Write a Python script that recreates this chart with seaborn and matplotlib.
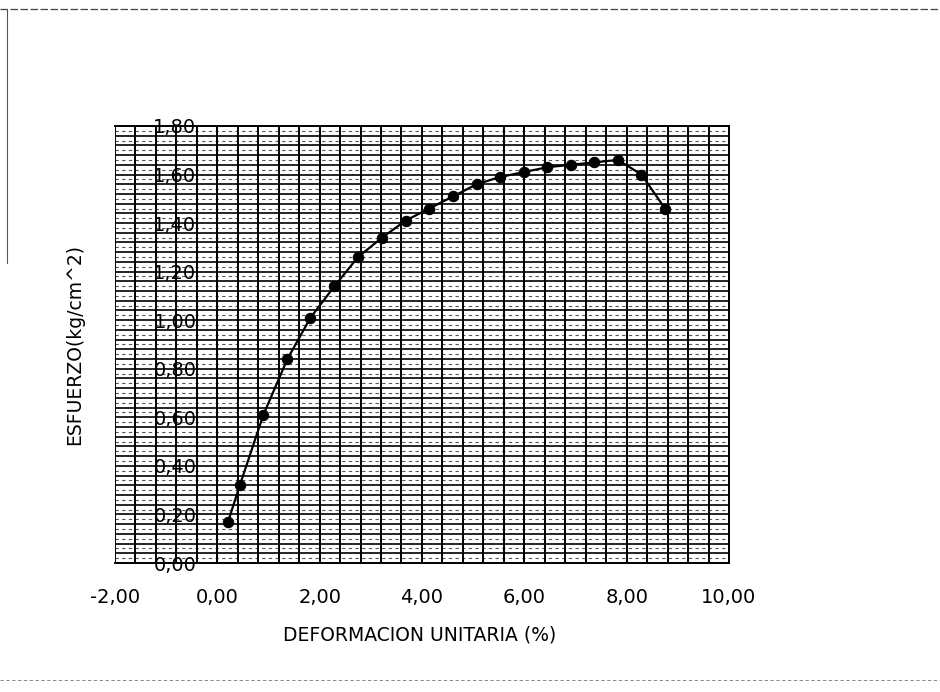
import numpy as np
import pandas as pd
import matplotlib
matplotlib.use('Agg')
import matplotlib.pyplot as plt
from matplotlib.ticker import FuncFormatter, MultipleLocator
from matplotlib.lines import Line2D
import seaborn as sns

# Datos
deformacion = [0.21, 0.44, 0.90, 1.37, 1.82, 2.29, 2.75, 3.22, 3.68, 4.14,
               4.61, 5.07, 5.53, 5.99, 6.45, 6.91, 7.37, 7.83, 8.29, 8.75]
esfuerzo = [0.17, 0.32, 0.61, 0.84, 1.01, 1.14, 1.26, 1.34, 1.41, 1.46,
            1.51, 1.56, 1.59, 1.61, 1.63, 1.64, 1.65, 1.66, 1.60, 1.46]

df = pd.DataFrame({'Deformacion': deformacion, 'Esfuerzo': esfuerzo})

sns.set_style('white')
plt.rcParams['font.family'] = ['DejaVu Sans']

fig = plt.figure(figsize=(9.4, 6.92), dpi=100)
ax = fig.add_axes([0.1223, 0.1864, 0.6532, 0.6316])

sns.lineplot(x='Deformacion', y='Esfuerzo', data=df, sort=False, ax=ax,
             color='black', linewidth=1.6, marker='o', markersize=7.5,
             markeredgecolor='black', markerfacecolor='black', zorder=5)

ax.set_xlim(-2, 10)
ax.set_ylim(0, 1.8)
ax.xaxis.set_major_locator(MultipleLocator(2))
ax.xaxis.set_minor_locator(MultipleLocator(0.4))
ax.yaxis.set_major_locator(MultipleLocator(0.2))
ax.yaxis.set_minor_locator(MultipleLocator(0.04))

fmt = FuncFormatter(lambda v, p: f'{v:.2f}'.replace('.', ','))
ax.xaxis.set_major_formatter(fmt)
ax.yaxis.set_major_formatter(fmt)

# rejilla densa (como en el escaneo)
ax.grid(True, which='both', axis='x', color='black', linewidth=1.4)
ax.grid(True, which='both', axis='y', color='black', linewidth=1.2)
ax.hlines(np.arange(0.02, 1.8, 0.04), -2, 10, colors='#555555',
          linewidth=0.8, linestyles=(0, (3, 3)), zorder=0.5)
ax.set_axisbelow(True)

# eje Y cruzando en x = 0
ax.spines['left'].set_position(('data', 0))
for s in ax.spines.values():
    s.set_color('black')
    s.set_linewidth(1.4)

ax.tick_params(axis='x', which='major', direction='out', length=8, width=1.3,
               pad=10, labelsize=14, colors='black')
ax.tick_params(axis='x', which='minor', length=0)
ax.tick_params(axis='y', which='both', length=0, pad=15, labelsize=14,
               colors='black')

ax.set_xlabel('DEFORMACION UNITARIA (%)', fontsize=13.5, color='black')
ax.set_ylabel('ESFUERZO(kg/cm^2)', fontsize=13.5, color='black')
ax.xaxis.set_label_coords(0.497, -0.142)
ax.yaxis.set_label_coords(-0.05, 0.5)

# bordes del escaneo
fig.add_artist(Line2D([0, 1], [0.987, 0.987], color='#444444', lw=0.9,
                      linestyle=(0, (6, 2)), transform=fig.transFigure))
fig.add_artist(Line2D([0, 1], [0.017, 0.017], color='#777777', lw=0.6,
                      linestyle=(0, (4, 3)), transform=fig.transFigure))
fig.add_artist(Line2D([0.007, 0.007], [0.987, 0.62], color='#555555', lw=0.8,
                      transform=fig.transFigure))

plt.savefig('out.png', dpi=100)
